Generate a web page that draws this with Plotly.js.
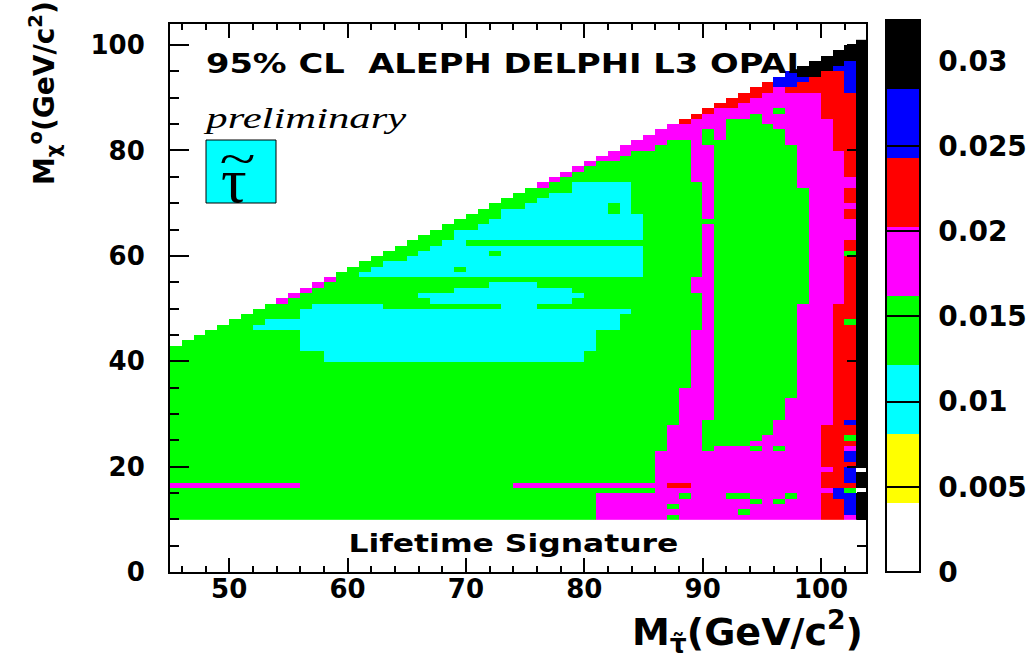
<!DOCTYPE html>
<html>
<head>
<meta charset="utf-8">
<script src="https://cdn.plot.ly/plotly-3.0.1.min.js"></script>
<style>
  html, body { margin: 0; padding: 0; background: #ffffff; }
  #chart { width: 1033px; height: 656px; }
</style>
</head>
<body>
<div id="chart"></div>
<script>
// Colour bands of the limit scale (one letter per band)
const bandLetters = ['w', 'y', 'c', 'g', 'm', 'r', 'b', 'k'];
const bandValues  = [0.002, 0.006, 0.0101, 0.0142, 0.0182, 0.0223, 0.0263, 0.0304];
const bandColors  = ['#ffffff', '#ffff00', '#00ffff', '#00ff00', '#ff00ff', '#ff0000', '#0000ff', '#000000'];
const zMax = 0.0324;

// Scan grid: 1 GeV bins in stau mass (x) and neutralino mass (y)
const stauMassFirst = 45, stauMassLast = 103;
const chiMassFirst = 10, chiMassLast = 100;

// Colour-bar ticks
const barTickValues = [0, 0.005, 0.01, 0.015, 0.02, 0.025, 0.03];
const barTickText   = ['0', '0.005', '0.01', '0.015', '0.02', '0.025', '0.03'];

// Each row: neutralino mass bin | runs "startStauMass+band" read left to right
const rowRuns = [
  "10|45g 81m 87g 88m 100r 102m 103k",
  "11|45g 81m 93g 94m 100r 102b 103k",
  "12|45g 81m 87g 88m 100r 102b 103k",
  "13|45g 81m 94g 95m 96g 97m 100r 102b 103k",
  "14|45g 81m 88g 89m 92g 94m 97g 98m 100r 101b 103k",
  "15|45g 86m 100m 101b 102g 103w",
  "16|45m 56g 74m 87r 89m 100r 103k",
  "17-18|45g 86m 100r 102b 103k",
  "19|45g 86m 100m 101r 102b 103w",
  "20|45g 86m 100r 103k",
  "21-22|45g 86m 100r 102b 103k",
  "23|45g 87m 90g 91m 94g 95m 96g 97m 100r 102m 103k",
  "24|45g 87m 90g 94m 100r 103k",
  "25|45g 87m 90g 95m 100r 102g 103k",
  "26-27|45g 87m 90g 96m 100r 103k",
  "28|45g 88m 90g 96m 101r 102b 103k",
  "29-32|45g 88m 91g 97m 101r 103k",
  "33-34|45g 88m 91g 98m 101r 103k",
  "35-39|45g 89m 91g 98m 101r 103k",
  "40-41|45g 58c 80g 89m 91g 98m 101r 103k",
  "42-45|45g 56c 81g 89m 91g 98m 101r 103k",
  "46|45g 52c 83g 90m 91g 98m 101r 103k",
  "47|45g 53c 83g 90m 91g 98m 101r 102g 103k",
  "48|45g 56c 83g 90m 91g 98m 101r 103k",
  "49|45g 56c 84g 90m 91g 98m 101r 103k",
  "50|53g 57c 63g 73c 76g 90m 91g 98m 101r 103k",
  "51|54m 55g 67c 79g 90m 91g 99m 102r 103k",
  "52|55m 56g 66c 80g 90m 91g 99m 102r 103k",
  "53|56m 57g 69c 79g 89m 91g 99m 102r 103k",
  "54|57m 58g 72c 76g 89m 91g 99m 102r 103k",
  "55|58m 59g 89m 91g 99m 102r 103k",
  "56|59g 61c 85g 90m 91g 99m 102r 103k",
  "57|60g 62c 69g 70c 85g 90m 91g 99m 102r 103k",
  "58|61g 63c 85g 90m 91g 99m 102r 103k",
  "59|62g 65c 85g 90m 91g 99m 102r 103k",
  "60|63g 66c 72g 73c 85g 90m 91g 99m 102g 103k",
  "61|64g 67c 85g 90m 91g 99m 102r 103k",
  "62|65g 68c 70g 90m 91g 99m 102r 103k",
  "63|66g 69c 85g 90m 91g 99m 102m 103k",
  "64|67g 69c 85g 90m 91g 99m 102m 103k",
  "65|68g 71c 85g 90m 91g 99m 102m 103k",
  "66|69g 72c 85g 99m 102m 103k",
  "67|70g 73c 85g 90m 91g 99m 102r 103k",
  "68|71g 73c 82g 83c 84g 90m 91g 99m 102r 103k",
  "69|72g 75c 82g 83c 84g 90m 91g 99m 102m 103k",
  "70|73g 76c 84g 90m 91g 99m 102r 103k",
  "71|74g 77c 84g 90m 91g 99m 102r 103k",
  "72|75g 79c 84g 90m 91g 99m 102r 103k",
  "73|76m 77g 79c 84g 90m 91g 98m 102m 103k",
  "74|77m 78g 89m 91g 98m 102m 103k",
  "75|78m 79g 89m 91g 98m 102r 103k",
  "76|79m 80g 89m 91g 98m 102r 103k",
  "77|80m 81g 89m 91g 98m 102r 103k",
  "78|81m 83g 89m 91g 98m 102r 103k",
  "79|82m 84g 89m 91g 98m 102r 103k",
  "80|83m 86g 89m 91g 98m 101r 103k",
  "81|84m 87g 89m 90g 91g 97m 101r 103k",
  "82|85m 90g 91m 92g 97m 101r 103k",
  "83|86m 90g 91m 92g 97m 101r 103k",
  "84|87m 92g 96m 101r 103k",
  "85|88r 89m 92g 95m 101r 103k",
  "86|89r 90m 94g 95m 100r 103k",
  "87|90r 91m 96g 97m 100r 103k",
  "88|91r 93m 100r 103k",
  "89|92r 94m 100r 103k",
  "90|93r 95m 100r 103k",
  "91|94r 96m 97r 102b 103k",
  "92|95r 96b 98r 102b 103k",
  "93|96b 98b 99r 102b 103k",
  "94|97b 98k 100r 102b 103k",
  "95|98k 101b 102b 103k",
  "96|99k 102b 103k",
  "97|100k",
  "98|101k",
  "99|102k",
  "100|103k"
];

// ---- build the z matrix from the row runs ----
const xEdges = [];
for (let m = stauMassFirst; m <= stauMassLast + 1; m++) xEdges.push(m);
const yEdges = [];
for (let m = chiMassFirst; m <= chiMassLast + 1; m++) yEdges.push(m);
const nCols = stauMassLast - stauMassFirst + 1;
const nRows = chiMassLast - chiMassFirst + 1;
const z = [];
for (let r = 0; r < nRows; r++) z.push(new Array(nCols).fill(null));

rowRuns.forEach(function (line) {
  const parts = line.split('|');
  const span = parts[0].split('-').map(Number);
  const y0 = span[0], y1 = span.length > 1 ? span[1] : span[0];
  const runs = parts[1].trim().split(/\s+/).map(function (tok) {
    return { start: parseInt(tok, 10), band: bandLetters.indexOf(tok.replace(/[0-9]/g, '')) };
  });
  for (let y = y0; y <= y1; y++) {
    for (let c = 0; c < nCols; c++) {
      const mStau = stauMassFirst + c;
      if (mStau < y + 3) continue;            // above the kinematic edge
      let band = -1;
      runs.forEach(function (run) { if (run.start <= mStau) band = run.band; });
      if (band >= 0) z[y - chiMassFirst][c] = bandValues[band];
    }
  }
});

// discrete colour scale: eight equal bands from 0 to zMax
const colorscale = [];
bandColors.forEach(function (col, i) {
  colorscale.push([i / 8, col]);
  colorscale.push([(i + 1) / 8, col]);
});

// plot-area geometry in pixels
const L = 170, R = 866, T = 24, B = 572;
function px(xp) { return (xp - L) / (R - L); }
function py(yp) { return (B - yp) / (B - T); }

const boldSans = 'DejaVu Sans, Arial, sans-serif';
const serif = 'Liberation Serif, Times New Roman, serif';

const trace = {
  type: 'heatmap',
  x: xEdges,
  y: yEdges,
  z: z,
  zmin: 0,
  zmax: zMax,
  colorscale: colorscale,
  zsmooth: false,
  hoverongaps: false,
  colorbar: {
    x: px(886), xanchor: 'left', xref: 'paper',
    y: py(572), yanchor: 'bottom', yref: 'paper',
    lenmode: 'pixels', len: 552,
    thicknessmode: 'pixels', thickness: 34,
    outlinewidth: 2, outlinecolor: '#000',
    xpad: 0, ypad: 0,
    tickvals: barTickValues,
    ticktext: barTickText.map(function (s) { return '\u2009\u2009' + s; }),
    ticks: 'inside', ticklen: 34, tickwidth: 2, tickcolor: '#000',
    tickfont: { family: boldSans, size: 28, color: '#000', weight: 'bold' }
  }
};

const axisCommon = {
  showgrid: false, zeroline: false,
  showline: true, linecolor: '#000', linewidth: 2, mirror: 'allticks',
  ticks: 'inside', tickcolor: '#000', tickwidth: 2,
  tickfont: { family: boldSans, size: 26, color: '#000', weight: 'bold' }
};

const layout = {
  width: 1033, height: 656,
  margin: { l: L, r: 1033 - R, t: T, b: 656 - B, pad: 0, autoexpand: false },
  paper_bgcolor: '#ffffff', plot_bgcolor: '#ffffff',
  xaxis: Object.assign({}, axisCommon, {
    range: [45, 103.8], tickmode: 'array', tickvals: [50, 60, 70, 80, 90, 100],
    ticklen: 14, ticklabelstandoff: -7,
    minor: { dtick: 2, tick0: 0, ticks: 'inside', ticklen: 6, tickcolor: '#000', tickwidth: 2 }
  }),
  yaxis: Object.assign({}, axisCommon, {
    range: [0, 104], tickmode: 'array', tickvals: [0, 20, 40, 60, 80, 100],
    ticklen: 19, ticklabelstandoff: 18,
    minor: { dtick: 5, tick0: 0, ticks: 'inside', ticklen: 9, tickcolor: '#000', tickwidth: 2 }
  }),
  shapes: [
    { type: 'rect', xref: 'paper', yref: 'paper',
      x0: px(206), x1: px(276), y0: py(203), y1: py(140),
      fillcolor: '#00ffff', line: { color: '#000', width: 1 }, layer: 'above' }
  ],
  annotations: [
    { xref: 'paper', yref: 'paper', x: px(507), y: py(63), xanchor: 'center', yanchor: 'middle',
      text: '95% CL\u00a0\u00a0ALEPH DELPHI L3 OPAL', showarrow: false,
      font: { family: boldSans, size: 27, color: '#000', weight: 'bold' } },
    { xref: 'paper', yref: 'paper', x: px(305), y: py(118), xanchor: 'center', yanchor: 'middle',
      text: 'preliminary', showarrow: false,
      font: { family: serif, size: 30, color: '#000', style: 'italic' } },
    { xref: 'paper', yref: 'paper', x: px(234), y: py(181), xanchor: 'center', yanchor: 'middle',
      text: 'τ', showarrow: false,
      font: { family: serif, size: 64, color: '#000' } },
    { xref: 'paper', yref: 'paper', x: px(237), y: py(158), xanchor: 'center', yanchor: 'middle',
      text: '~', showarrow: false,
      font: { family: serif, size: 46, color: '#000' } },
    { xref: 'paper', yref: 'paper', x: px(513), y: py(543), xanchor: 'center', yanchor: 'middle',
      text: 'Lifetime Signature', showarrow: false,
      font: { family: boldSans, size: 25, color: '#000', weight: 'bold' } },
    { xref: 'paper', yref: 'paper', x: px(865), y: py(631), xanchor: 'right', yanchor: 'middle',
      text: 'M<sub>τ̃</sub>(GeV/c<sup>2</sup>)', showarrow: false,
      font: { family: boldSans, size: 38, color: '#000', weight: 'bold' } },
    { xref: 'paper', yref: 'paper', x: px(44), y: py(93), xanchor: 'center', yanchor: 'middle',
      textangle: -90,
      text: 'M<sub>χ</sub><sup>o</sup>(GeV/c<sup>2</sup>)', showarrow: false,
      font: { family: boldSans, size: 28, color: '#000', weight: 'bold' } }
  ]
};

// horizontal widths of the wide label lettering
const stretchTargets = {
  '95% CL\u00a0\u00a0ALEPH DELPHI L3 OPAL': 602,
  'Lifetime Signature': 330,
  'preliminary': 200,
  '~': 36
};

Plotly.newPlot('chart', [trace], layout, { displayModeBar: false, staticPlot: true }).then(function () {
  document.querySelectorAll('#chart text.annotation-text').forEach(function (t) {
    const target = stretchTargets[t.textContent];
    if (target) {
      t.setAttribute('textLength', target);
      t.setAttribute('lengthAdjust', 'spacingAndGlyphs');
    }
  });
});
</script>
</body>
</html>
